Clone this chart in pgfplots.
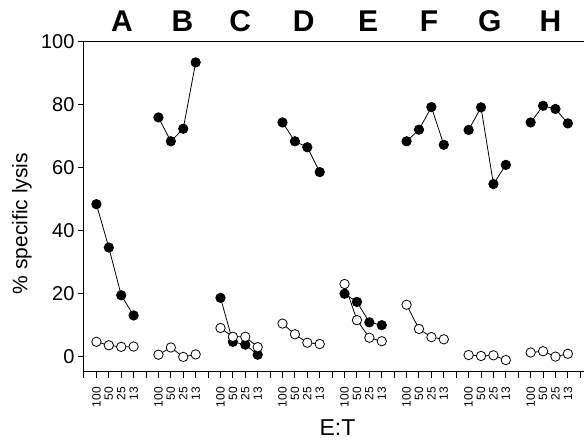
\documentclass[border=0pt]{standalone}
\usepackage{pgfplots}
\pgfplotsset{compat=1.18}
\usepackage{fontspec}
\setmainfont{Liberation Sans}
\begin{document}
\begin{tikzpicture}
\useasboundingbox (-84pt,-69pt) rectangle (500pt,372pt);
\begin{axis}[
  scale only axis, width=500pt, height=330pt,
  xmin=0, xmax=40.3, ymin=-5, ymax=100,
  axis lines=left,
  axis line style={-, line width=1pt},
  clip=false,
  tick align=outside,
  major tick length=6pt,
  tick style={black, line width=1pt},
  xtick={0,...,40},
  xticklabels={{},100,50,25,13,{},100,50,25,13,{},100,50,25,13,{},100,50,25,13,{},100,50,25,13,{},100,50,25,13,{},100,50,25,13,{},100,50,25,13,{}},
  xticklabel style={rotate=90, anchor=east, font=\fontsize{12}{12}\selectfont, inner sep=1pt},
  xticklabel shift=8pt,
  ytick={0,20,...,100},
  yticklabel style={font=\fontsize{20}{20}\selectfont},
  /pgf/number format/assume math mode=true,
  ylabel={\% specific lysis},
  ylabel style={at={(axis description cs:-0.124,0.45)}, anchor=center, font=\fontsize{21}{21}\selectfont},
  xlabel={E:T},
  xlabel style={at={(axis description cs:0.507,-0.167)}, anchor=center, font=\fontsize{23}{23}\selectfont},
  every axis plot/.append style={black, line width=0.8pt, mark size=4.7pt},
  filled/.style={mark=*, mark options={fill=black, solid}},
  open/.style={mark=*, mark options={fill=white, solid}},
]
\addplot[no marks, line width=1pt, forget plot] coordinates {(0,100) (40.3,100)};
% A
\addplot[open] coordinates {(1,4.6) (2,3.5) (3,3.0) (4,3.1)};
\addplot[filled] coordinates {(1,48.4) (2,34.6) (3,19.4) (4,13.0)};
% B
\addplot[open] coordinates {(6,0.5) (7,2.8) (8,-0.2) (9,0.6)};
\addplot[filled] coordinates {(6,76.0) (7,68.4) (8,72.4) (9,93.5)};
% C
\addplot[filled] coordinates {(11,18.6) (12,4.6) (13,3.7) (14,0.5)};
\addplot[open] coordinates {(11,9.0) (12,6.2) (13,6.2) (14,2.9)};
% D
\addplot[open] coordinates {(16,10.4) (17,7.0) (18,4.3) (19,3.9)};
\addplot[filled] coordinates {(16,74.4) (17,68.4) (18,66.5) (19,58.6)};
% E
\addplot[open] coordinates {(21,23.0) (22,11.5) (23,5.9) (24,4.8)};
\addplot[filled] coordinates {(21,19.9) (22,17.3) (23,10.8) (24,9.9)};
% F
\addplot[open] coordinates {(26,16.4) (27,8.7) (28,6.1) (29,5.4)};
\addplot[filled] coordinates {(26,68.4) (27,72.1) (28,79.3) (29,67.3)};
% G
\addplot[open] coordinates {(31,0.4) (32,0.1) (33,0.3) (34,-1.2)};
\addplot[filled] coordinates {(31,72.0) (32,79.2) (33,54.8) (34,60.9)};
% H
\addplot[open] coordinates {(36,1.2) (37,1.6) (38,-0.1) (39,0.8)};
\addplot[filled] coordinates {(36,74.4) (37,79.7) (38,78.7) (39,74.1)};
% group letters
\foreach \p/\l in {3.06/A,7.93/B,12.6/C,17.7/D,22.9/E,27.8/F,32.7/G,37.6/H}{
  \edef\temp{\noexpand\node[anchor=base, yshift=10pt, font=\noexpand\bfseries\noexpand\fontsize{30}{30}\noexpand\selectfont, inner sep=0pt] at (axis cs:\p,100) {\l};}
  \temp
}
\end{axis}
\end{tikzpicture}
\end{document}
